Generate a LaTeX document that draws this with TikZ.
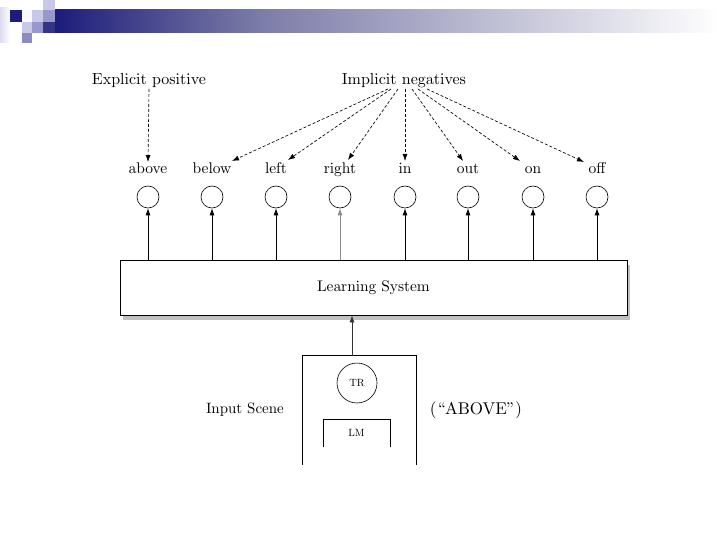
\documentclass[tikz,border=0pt]{standalone}
\usetikzlibrary{arrows.meta,calc,shadows}
\definecolor{navy}{HTML}{1C1C7A}
\definecolor{peri}{HTML}{9898CC}
\definecolor{lperi}{HTML}{C8C8E8}
\definecolor{pale}{HTML}{DCDCF0}
\definecolor{barmid}{HTML}{7C7CA8}
\font\fntA=cmr10 at 16pt
\font\fntB=cmr10 at 15.5pt
\font\fntC=cmr10 at 15.4pt
\font\fntD=cmr10 at 15pt
\font\fntE=cmr10 at 17pt
\font\fntF=cmr10 at 10.5pt
\begin{document}
\begin{tikzpicture}[x=1pt,y=-1pt,
  lbl/.style={inner sep=1pt,font=\fntA},
  wrd/.style={inner sep=1pt,font=\fntB},
  outc/.style={circle,draw,line width=0.6pt,minimum size=22pt,inner sep=0pt},
  arr/.style={line width=0.7pt,-{Latex[length=7pt,width=5pt]}},
  darr/.style={line width=0.65pt,dash pattern=on 3pt off 2pt,-{Latex[length=7pt,width=5pt]}},
]
\useasboundingbox (0,0) rectangle (720,540);
% header decoration
\shade[left color=pale,right color=white] (0,8) rectangle (10,43);
\fill[navy] (10,10) rectangle (22,22);
\fill[white!90!lperi] (22,10) rectangle (32,22);
\fill[lperi] (32,10) rectangle (43,22);
\fill[lperi] (43,0) rectangle (55,10);
\fill[peri] (43,10) rectangle (55,22);
\fill[lperi] (22,22) rectangle (32,33);
\fill[peri] (32,22) rectangle (43,33);
\fill[peri!90!navy] (22,33) rectangle (32,43);
\fill[navy!90!white] (43,22) rectangle (55,33);
\shade[left color=navy,right color=barmid] (55,10) rectangle (260,33);
\shade[left color=barmid,right color=white] (260,10) rectangle (720,33);

% top labels
\node[lbl] (expl) at (149,81) {Explicit positive};
\node[lbl] (impl) at (404,81) {Implicit negatives};

% words and circles
\foreach \n/\t/\x in {w1/above/148,w2/below/212,w3/left/276,w4/right/340,w5/in/405,w6/out/468,w7/on/533,w8/off/597}{
  \node[wrd,anchor=base] (\n) at (\x,174) {\t};
}
\foreach \n/\x in {c1/148,c2/212,c3/276,c4/340,c5/405,c6/468,c7/533,c8/597}{
  \node[outc] (\n) at (\x,197) {};
}

% learning system
\node[draw,line width=0.8pt,fill=white,minimum width=507pt,minimum height=55pt,
  drop shadow={shadow xshift=3pt,shadow yshift=-5pt,opacity=0.35,fill=black!70},
  font=\fntC] (ls) at (373.5,287.5) {Learning System};

\foreach \c in {c1,c2,c3,c5,c6,c7,c8}{
  \draw[arr] (ls.north -| \c) -- (\c.south);
}
\draw[arr,draw=black!45] (ls.north -| c4) -- (c4.south);

% dashed arrows
\coordinate (ep) at (149,89);
\draw[darr] (ep) -- (w1.north);
\coordinate (s2) at (388,89);
\coordinate (s3) at (391,89);
\coordinate (s4) at (398,89);
\coordinate (s5) at (405,89);
\coordinate (s6) at (412,89);
\coordinate (s7) at (418,89);
\coordinate (s8) at (427,89);
\coordinate (e2) at (232,161);
\coordinate (e3) at (288,160);
\coordinate (e4) at (348,160);
\coordinate (e5) at (405,161);
\coordinate (e6) at (463,161);
\coordinate (e7) at (520,161);
\coordinate (e8) at (584,162);
\foreach \i in {2,...,8}{
  \draw[darr] (s\i) -- (e\i);
}

% input scene
\node[minimum width=113pt,minimum height=109pt,inner sep=0pt] (scene) at (359.5,410.5) {};
\draw[line width=0.7pt] (scene.south west) -- (scene.north west) -- (scene.north east) -- (scene.south east);
\node[circle,draw,line width=0.6pt,minimum size=40pt,inner sep=0pt,font=\fntF] (tr) at (357,383) {TR};
\node[minimum width=67pt,minimum height=28pt,inner sep=0pt,font=\fntF] (lm) at (356.5,433) {LM};
\draw[line width=0.5pt] (lm.south west) -- (lm.north west) -- (lm.north east) -- (lm.south east);
\coordinate (sc) at (352,356);
\draw[arr,draw=black!80] (sc) -- (sc |- ls.south);
\node[inner sep=1pt,font=\fntD] (inp) at (245,410) {Input Scene};
\node[inner sep=1pt,font=\fntE] (abv) at (476,410) {(``ABOVE'')};
\end{tikzpicture}
\end{document}
